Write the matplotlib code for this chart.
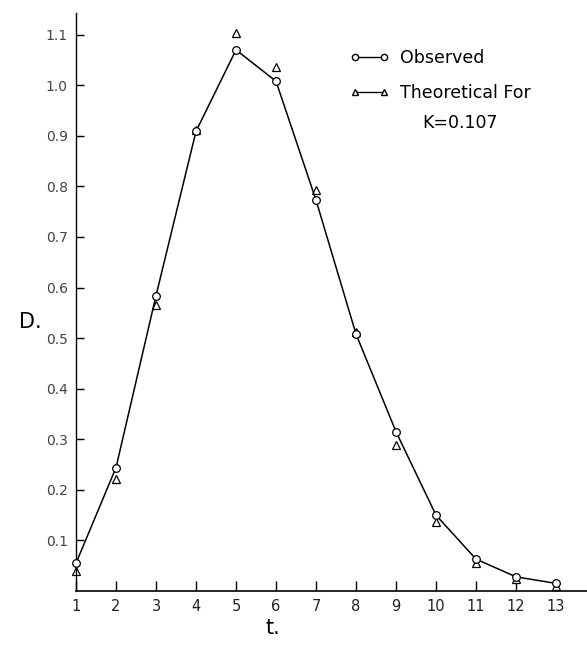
import matplotlib.pyplot as plt
from matplotlib.lines import Line2D

t = [1, 2, 3, 4, 5, 6, 7, 8, 9, 10, 11, 12, 13]
observed = [0.055, 0.244, 0.584, 0.909, 1.070, 1.008, 0.773, 0.508, 0.315, 0.150, 0.063, 0.028, 0.015]
theoretical = [0.040, 0.221, 0.565, 0.912, 1.103, 1.037, 0.793, 0.512, 0.289, 0.137, 0.055, 0.023, 0.010]
yticks = [0.1, 0.2, 0.3, 0.4, 0.5, 0.6, 0.7, 0.8, 0.9, 1.0, 1.1]
ytick_labels = ["0.1", "0.2", "0.3", "0.4", "0.5", "0.6", "0.7", "0.8", "0.9", "1.0", "1.1"]

plt.rcParams['font.family'] = ['DejaVu Sans']
fig = plt.figure(figsize=(5.87, 6.49), dpi=100, facecolor='white')
ax = fig.add_axes([0.1295, 0.0894, 0.8705, 0.8906])

ax.plot(t, observed, color='black', linewidth=1.1, marker='o', markersize=5.5,
        markerfacecolor='white', markeredgecolor='black', markeredgewidth=0.9, clip_on=False, zorder=3)
ax.plot(t, theoretical, linestyle='none', marker='^', markersize=5.5,
        markerfacecolor='white', markeredgecolor='black', markeredgewidth=0.9, clip_on=False, zorder=2)

ax.set_xlim(1, 13.775)
ax.set_ylim(0, 1.143)
ax.spines['top'].set_visible(False)
ax.spines['right'].set_visible(False)
ax.spines['left'].set_linewidth(1.0)
ax.spines['bottom'].set_linewidth(1.2)

ax.set_xticks(t)
ax.set_xticklabels([str(v) for v in t], fontsize=10.5, color='#222222')
ax.set_yticks(yticks)
ax.set_yticklabels(ytick_labels, fontsize=10, color='#444444')
ax.tick_params(axis='x', direction='in', length=7, width=1.0, pad=6)
ax.tick_params(axis='y', direction='in', length=6, width=1.0, pad=6)

ax.text(-0.09, 0.465, "D.", transform=ax.transAxes, fontsize=15, ha='center', va='center')
ax.text(0.385, -0.064, "t.", transform=ax.transAxes, fontsize=15, ha='center', va='center')

handles = [
    Line2D([], [], color='black', linewidth=1.0, marker='o', markersize=4.5,
           markerfacecolor='white', markeredgecolor='black'),
    Line2D([], [], color='black', linewidth=1.0, marker='^', markersize=4.5,
           markerfacecolor='white', markeredgecolor='black'),
]
ax.legend(handles, ["Observed", "Theoretical For"], numpoints=2, frameon=False,
          loc='upper left', bbox_to_anchor=(0.505, 0.965), fontsize=12.5,
          handlelength=2.3, handletextpad=0.6, labelspacing=1.0)
ax.text(0.751, 0.81, "K=0.107", transform=ax.transAxes, fontsize=12.5, ha='center', va='center')

plt.savefig("out.png", dpi=100, facecolor='white')
